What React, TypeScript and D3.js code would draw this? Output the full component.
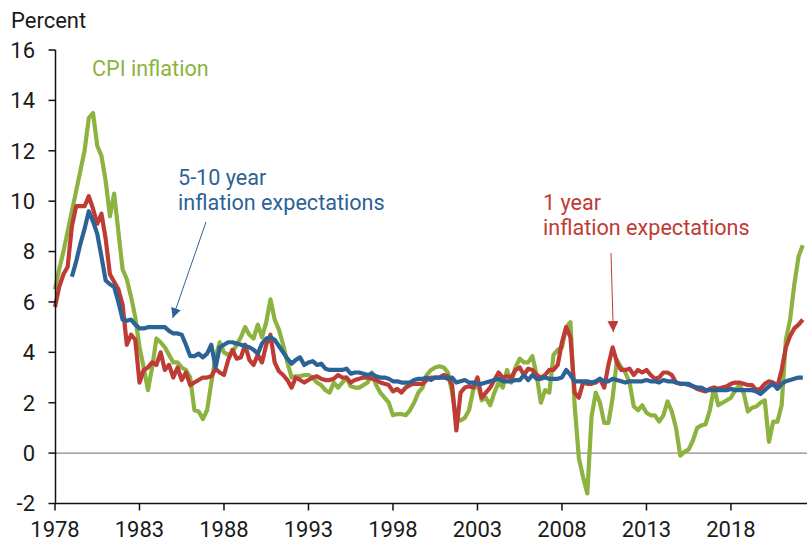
import React from "react";
import * as d3 from "d3";

// Quarterly data, 1978Q1 .. 2022Q2
const startYear = 1978;

const cpiInflation: number[] = [
  6.5, 7.3, 8.0, 8.8,
  9.6, 10.4, 11.2, 12.0,
  13.3, 13.5, 12.2, 11.8,
  10.8, 9.4, 10.3, 8.8,
  7.3, 6.9, 6.2, 5.4,
  4.2, 3.4, 2.5, 3.4,
  4.55, 4.4, 4.2, 3.9,
  3.6, 3.6, 3.4, 3.3,
  3.0, 1.7, 1.65, 1.35,
  1.7, 2.8, 3.8, 4.4,
  4.0, 3.9, 4.0, 4.3,
  4.6, 5.0, 4.7, 4.55,
  5.1, 4.6, 5.2, 6.1,
  5.3, 4.9, 4.3, 3.6,
  3.0, 3.05, 3.05, 3.1,
  3.1, 3.0, 2.8, 2.7,
  2.5, 2.4, 2.8, 2.6,
  2.8, 3.0, 2.65, 2.6,
  2.6, 2.7, 2.8, 3.2,
  2.7, 2.4, 2.2, 2.0,
  1.5, 1.55, 1.55, 1.5,
  1.7, 2.0, 2.4, 2.6,
  3.1, 3.3, 3.4, 3.45,
  3.4, 3.2, 2.4, 1.3,
  1.3, 1.4, 1.7, 2.5,
  2.8, 2.1, 2.2, 1.9,
  2.4, 2.8, 2.6, 3.3,
  2.8, 3.4, 3.75, 3.6,
  3.6, 3.85, 3.1, 2.0,
  2.5, 2.4, 3.9, 4.1,
  4.2, 5.0, 5.2, 1.9,
  -0.2, -0.95, -1.6, 1.45,
  2.4, 2.0, 1.2, 1.2,
  2.2, 3.7, 3.4, 3.2,
  2.8, 1.85, 1.7, 1.9,
  1.6, 1.5, 1.5, 1.25,
  1.5, 2.05, 1.65, 1.0,
  -0.1, 0.05, 0.15, 0.5,
  1.0, 1.1, 1.15, 1.7,
  2.6, 1.9, 2.0, 2.1,
  2.2, 2.5, 2.7, 2.4,
  1.65, 1.8, 1.85, 2.0,
  2.1, 0.45, 1.25, 1.25,
  1.9, 4.5, 5.3, 6.7,
  7.8, 8.25,
];

const oneYearExpectations: number[] = [
  5.8, 6.6, 7.1, 7.4,
  9.0, 9.8, 9.8, 9.8,
  10.2, 9.7, 9.1, 9.5,
  8.5, 7.1, 6.8, 6.5,
  5.9, 4.3, 4.7, 4.5,
  2.8, 3.3, 3.4, 3.6,
  3.5, 4.0, 3.3, 3.5,
  3.0, 3.4, 2.9, 3.2,
  2.7, 2.8, 2.9, 3.0,
  3.0, 3.05, 3.35, 3.2,
  3.1, 3.7, 4.1, 3.75,
  3.8, 4.3, 3.7, 3.5,
  3.9, 3.6, 4.3, 4.7,
  3.6, 3.25, 3.1, 2.9,
  2.6, 3.0, 2.9, 2.8,
  2.9, 3.0, 3.05, 2.95,
  2.9, 2.9, 2.95, 3.1,
  3.0, 3.0, 2.8, 2.9,
  2.95, 3.0, 3.0, 2.95,
  2.9, 2.8, 2.75, 2.7,
  2.45, 2.55, 2.4, 2.6,
  2.7, 2.75, 2.75, 2.75,
  2.9, 3.0, 3.0, 3.0,
  3.1, 3.05, 2.7, 0.9,
  2.4, 2.6, 2.65, 2.6,
  3.0, 2.2, 2.4, 2.6,
  2.9, 3.2, 3.0, 3.05,
  3.0, 3.3, 3.4, 3.1,
  3.35, 3.3, 3.1, 3.0,
  3.1, 3.3, 3.3, 3.5,
  4.4, 5.0, 4.6, 2.4,
  2.2, 2.8, 2.75, 2.75,
  2.8, 2.95, 2.6, 3.5,
  4.2, 3.6, 3.3, 3.3,
  3.35, 3.1, 3.3, 3.2,
  3.3, 3.1, 2.95, 3.0,
  3.2, 3.2, 3.1, 2.8,
  2.75, 2.75, 2.7, 2.65,
  2.55, 2.5, 2.45, 2.55,
  2.6, 2.55, 2.6, 2.65,
  2.75, 2.8, 2.8, 2.75,
  2.7, 2.7, 2.5, 2.55,
  2.75, 2.85, 2.8, 2.65,
  3.3, 4.2, 4.65, 4.95,
  5.1, 5.3,
];

const longRunExpectations: (number | null)[] = [
  null, null, null, null,
  7.0, 7.6, 8.3, 8.9,
  9.6, 9.2, 8.7, 7.8,
  6.85, 6.7, 6.6, 6.0,
  5.3, 5.25, 5.3, 5.1,
  4.95, 4.95, 5.0, 5.0,
  5.0, 5.0, 5.0, 4.85,
  4.75, 4.75, 4.7, 4.3,
  3.85, 3.85, 3.95, 3.8,
  3.95, 4.3, 3.4, 4.2,
  4.3, 4.4, 4.4, 4.35,
  4.3, 4.25, 4.2, 4.1,
  3.95, 4.35, 4.55, 4.6,
  4.5, 4.25, 4.0, 3.75,
  3.55, 3.7, 3.8, 3.5,
  3.6, 3.65, 3.5, 3.55,
  3.35, 3.3, 3.3, 3.3,
  3.3, 3.35, 3.15, 3.2,
  3.2, 3.15, 3.1, 3.15,
  3.05, 3.0, 3.0, 2.95,
  2.85, 2.85, 2.8, 2.8,
  2.8, 2.9, 2.95, 2.95,
  3.0, 2.9, 3.0, 3.0,
  3.0, 2.95, 3.0, 2.8,
  2.85, 2.9, 2.8, 2.8,
  2.75, 2.75, 2.8, 2.85,
  2.9, 2.95, 2.85, 2.85,
  2.85, 2.9, 2.9, 3.1,
  2.9, 3.1, 2.95, 2.95,
  3.0, 2.95, 2.95, 2.95,
  3.0, 3.3, 3.1, 2.85,
  2.85, 2.85, 2.85, 2.8,
  2.85, 2.95, 2.85, 2.85,
  2.95, 2.9, 2.85, 2.8,
  2.85, 2.85, 2.85, 2.85,
  2.9, 2.85, 2.85, 2.8,
  2.9, 2.85, 2.85, 2.8,
  2.75, 2.75, 2.75, 2.65,
  2.6, 2.6, 2.5, 2.5,
  2.5, 2.5, 2.5, 2.5,
  2.55, 2.5, 2.5, 2.5,
  2.5, 2.5, 2.45, 2.35,
  2.5, 2.65, 2.75, 2.55,
  2.75, 2.85, 2.9, 2.95,
  3.0, 3.0,
];

const xTicks: number[] = [1978, 1983, 1988, 1993, 1998, 2003, 2008, 2013, 2018];
const yTicks: number[] = [-2, 0, 2, 4, 6, 8, 10, 12, 14, 16];

const GREEN = "#8CB23F";
const RED = "#BE3B36";
const BLUE = "#2C6396";
const FONT = "Roboto, 'Noto Sans', sans-serif";

export default function App() {
  const width = 807;
  const height = 541;
  const x = d3.scaleLinear().domain([1978, 2022.5]).range([55, 807]);
  const y = d3.scaleLinear().domain([-2, 16]).range([503.5, 50]);

  const toPoints = (vals: (number | null)[]) =>
    vals.map((v, i) => ({ t: startYear + i / 4, v }));

  const line = d3
    .line<{ t: number; v: number | null }>()
    .defined((d) => d.v !== null)
    .x((d) => x(d.t))
    .y((d) => y(d.v as number));

  const series = [
    { data: cpiInflation, color: GREEN },
    { data: oneYearExpectations, color: RED },
    { data: longRunExpectations, color: BLUE },
  ];

  const axisX = x.range()[0] + 0.5;
  const axisY = y(-2);

  return (
    <svg
      width={width}
      height={height}
      style={{ position: "absolute", left: 0, top: 0, background: "#fff" }}
      fontFamily={FONT}
    >
      <defs>
        <marker id="arrBlue" viewBox="0 0 10 10" refX="10" refY="5" markerWidth="10" markerHeight="10" markerUnits="userSpaceOnUse" orient="auto">
          <path d="M0,0 L10,5 L0,10 z" fill={BLUE} />
        </marker>
        <marker id="arrRed" viewBox="0 0 10 10" refX="10" refY="5" markerWidth="11" markerHeight="11" markerUnits="userSpaceOnUse" orient="auto">
          <path d="M0,0 L10,5 L0,10 z" fill={RED} />
        </marker>
      </defs>

      {/* zero line */}
      <line x1={x(1978)} x2={x(2022.5)} y1={y(0)} y2={y(0)} stroke="#8a8a8a" strokeWidth={1.2} />

      {/* series */}
      {series.map((s, i) => (
        <path
          key={i}
          d={line(toPoints(s.data)) || ""}
          fill="none"
          stroke={s.color}
          strokeWidth={4.2}
          strokeLinejoin="round"
          strokeLinecap="butt"
        />
      ))}

      {/* y axis */}
      <line x1={axisX} x2={axisX} y1={y(16)} y2={axisY} stroke="#111" strokeWidth={1.5} />
      {yTicks.map((t) => (
        <g key={t}>
          <line x1={axisX - 7} x2={axisX} y1={y(t)} y2={y(t)} stroke="#111" strokeWidth={1.5} />
          <text x={35} y={y(t) + 7.8} textAnchor="end" fontSize={22} fill="#1a1a1a">
            {t}
          </text>
        </g>
      ))}

      {/* x axis */}
      <line x1={x(1978)} x2={x(2022.5)} y1={axisY} y2={axisY} stroke="#111" strokeWidth={1.5} />
      {xTicks.map((t) => (
        <g key={t}>
          <line x1={x(t)} x2={x(t)} y1={axisY} y2={axisY + 7} stroke="#111" strokeWidth={1.5} />
          <text x={x(t)} y={537} textAnchor="middle" fontSize={22} fill="#1a1a1a">
            {t}
          </text>
        </g>
      ))}

      <text x={11} y={28} fontSize={22} fill="#1a1a1a">Percent</text>

      {/* annotations */}
      <text x={92} y={76} fontSize={21.6} fill={GREEN}>CPI inflation</text>

      <text x={178} y={185} fontSize={21.6} fill={BLUE}>5-10 year</text>
      <text x={178} y={210} fontSize={21.6} fill={BLUE}>inflation expectations</text>
      <line x1={206} y1={222} x2={172.7} y2={318} stroke={BLUE} strokeWidth={1} markerEnd="url(#arrBlue)" />

      <text x={543} y={210} fontSize={21.6} fill={RED}>1 year</text>
      <text x={543} y={235} fontSize={21.6} fill={RED}>inflation expectations</text>
      <line x1={611} y1={253} x2={613.3} y2={332} stroke={RED} strokeWidth={1} markerEnd="url(#arrRed)" />
    </svg>
  );
}
